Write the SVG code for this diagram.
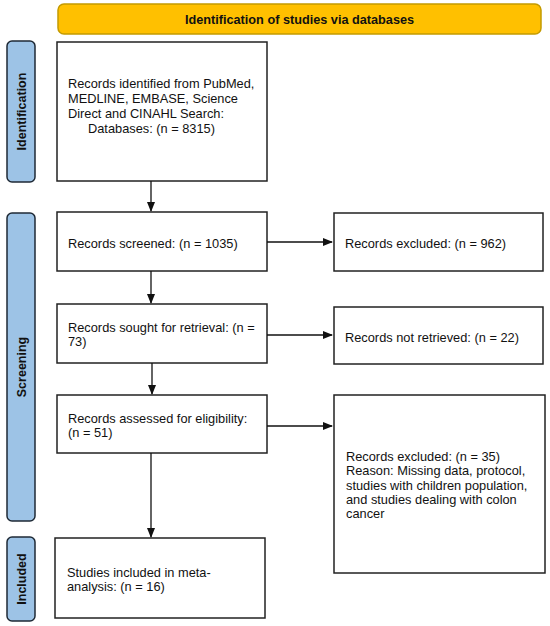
<svg xmlns="http://www.w3.org/2000/svg" width="550" height="626" viewBox="0 0 550 626">
<style>
.box{fill:#fff;stroke:#222;stroke-width:1.5}
.side{fill:#9DC3E6;stroke:#1f2a36;stroke-width:1.5}
.t{font-family:"Liberation Sans",Arial,sans-serif;font-size:12.8px;fill:#111}
.b{font-family:"Liberation Sans",Arial,sans-serif;font-size:12.7px;font-weight:bold;fill:#111}
.s{font-family:"Liberation Sans",Arial,sans-serif;font-size:12.5px;font-weight:bold;fill:#111}
.c{stroke:#111;stroke-width:1.3;fill:none}
</style>
<defs>
<marker id="ah" markerWidth="10" markerHeight="8" refX="9" refY="4" orient="auto" markerUnits="userSpaceOnUse">
<path d="M0,0 L10,4 L0,8 Z" fill="#111"/>
</marker>
</defs>
<rect width="550" height="626" fill="#fff"/>
<g id="banner">
<rect x="58" y="4" width="483" height="30" rx="6" fill="#FFC000" stroke="#C49A00" stroke-width="1.5"/>
<text class="b" x="299.5" y="23.5" text-anchor="middle">Identification of studies via databases</text>
</g>
<g id="side-identification">
<rect class="side" x="7" y="41" width="28" height="141" rx="5"/>
<text class="s" transform="translate(25.5,111.5) rotate(-90)" text-anchor="middle">Identification</text>
</g>
<g id="side-screening">
<rect class="side" x="7" y="213" width="28" height="308" rx="5"/>
<text class="s" transform="translate(25.5,367) rotate(-90)" text-anchor="middle">Screening</text>
</g>
<g id="side-included">
<rect class="side" x="7" y="537" width="28" height="84" rx="5"/>
<text class="s" transform="translate(25.5,579) rotate(-90)" text-anchor="middle">Included</text>
</g>
<g id="identified">
<rect class="box" x="57" y="42" width="210" height="139"/>
<text class="t" x="68" y="88">Records identified from PubMed,</text>
<text class="t" x="68" y="103">MEDLINE, EMBASE, Science</text>
<text class="t" x="68" y="117.5">Direct and CINAHL Search:</text>
<text class="t" x="88" y="132.5">Databases: (n = 8315)</text>
</g>
<g id="screened">
<rect class="box" x="57" y="212" width="210" height="59"/>
<text class="t" x="68" y="247.5">Records screened: (n = 1035)</text>
</g>
<g id="excluded1">
<rect class="box" x="334" y="213" width="209" height="58"/>
<text class="t" x="345" y="247.5">Records excluded: (n = 962)</text>
</g>
<g id="sought">
<rect class="box" x="57" y="304" width="210" height="59"/>
<text class="t" x="68" y="331.5">Records sought for retrieval: (n =</text>
<text class="t" x="68" y="346">73)</text>
</g>
<g id="notretrieved">
<rect class="box" x="334" y="307" width="209" height="57"/>
<text class="t" x="345" y="341.5">Records not retrieved: (n = 22)</text>
</g>
<g id="assessed">
<rect class="box" x="57" y="395" width="210" height="58"/>
<text class="t" x="68" y="422.5">Records assessed for eligibility:</text>
<text class="t" x="68" y="437">(n = 51)</text>
</g>
<g id="excluded2">
<rect class="box" x="334" y="395" width="211" height="178"/>
<text class="t" x="346" y="460.5">Records excluded: (n = 35)</text>
<text class="t" x="346" y="475">Reason: Missing data, protocol,</text>
<text class="t" x="346" y="489.5">studies with children population,</text>
<text class="t" x="346" y="504">and studies dealing with colon</text>
<text class="t" x="346" y="518">cancer</text>
</g>
<g id="included">
<rect class="box" x="55" y="538" width="210" height="80"/>
<text class="t" x="67" y="576.5">Studies included in meta-</text>
<text class="t" x="67" y="591">analysis: (n = 16)</text>
</g>
<g id="connectors">
<line class="c" x1="151" y1="181" x2="151" y2="211" marker-end="url(#ah)"/>
<line class="c" x1="151" y1="271" x2="151" y2="303" marker-end="url(#ah)"/>
<line class="c" x1="152" y1="363" x2="152" y2="394" marker-end="url(#ah)"/>
<line class="c" x1="151" y1="453" x2="151" y2="537" marker-end="url(#ah)"/>
<line class="c" x1="267" y1="242" x2="332" y2="242" marker-end="url(#ah)"/>
<line class="c" x1="267" y1="335" x2="332" y2="335" marker-end="url(#ah)"/>
<line class="c" x1="267" y1="426" x2="332" y2="426" marker-end="url(#ah)"/>
</g>
</svg>
